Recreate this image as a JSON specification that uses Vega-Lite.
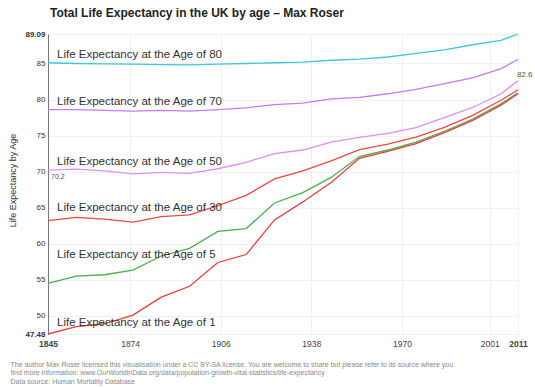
{
  "$schema": "https://vega.github.io/schema/vega-lite/v6.json",
  "width": 470,
  "height": 300,
  "autosize": {"type": "none"},
  "padding": {"left": 48, "top": 34, "right": 17, "bottom": 54},
  "background": "white",
  "config": {"font": "Liberation Sans", "view": {"stroke": null}},
  "title": {"text": "Total Life Expectancy in the UK by age – Max Roser", "anchor": "start", "frame": "group", "fontSize": 12, "fontWeight": "bold", "color": "#222222", "offset": 10, "dx": 2},
  "data": {"values": [
    {"year": 1845, "Life Expectancy at the Age of 80": 85.1, "Life Expectancy at the Age of 70": 78.6, "Life Expectancy at the Age of 50": 70.2, "Life Expectancy at the Age of 30": 63.2, "Life Expectancy at the Age of 5": 54.5, "Life Expectancy at the Age of 1": 47.48},
    {"year": 1855, "Life Expectancy at the Age of 80": 85.0, "Life Expectancy at the Age of 70": 78.6, "Life Expectancy at the Age of 50": 70.35, "Life Expectancy at the Age of 30": 63.65, "Life Expectancy at the Age of 5": 55.5, "Life Expectancy at the Age of 1": 48.5},
    {"year": 1865, "Life Expectancy at the Age of 80": 84.95, "Life Expectancy at the Age of 70": 78.5, "Life Expectancy at the Age of 50": 70.1, "Life Expectancy at the Age of 30": 63.4, "Life Expectancy at the Age of 5": 55.7, "Life Expectancy at the Age of 1": 48.9},
    {"year": 1875, "Life Expectancy at the Age of 80": 84.9, "Life Expectancy at the Age of 70": 78.4, "Life Expectancy at the Age of 50": 69.7, "Life Expectancy at the Age of 30": 63.0, "Life Expectancy at the Age of 5": 56.35, "Life Expectancy at the Age of 1": 50.1},
    {"year": 1885, "Life Expectancy at the Age of 80": 84.85, "Life Expectancy at the Age of 70": 78.5, "Life Expectancy at the Age of 50": 69.9, "Life Expectancy at the Age of 30": 63.75, "Life Expectancy at the Age of 5": 58.3, "Life Expectancy at the Age of 1": 52.6},
    {"year": 1895, "Life Expectancy at the Age of 80": 84.8, "Life Expectancy at the Age of 70": 78.4, "Life Expectancy at the Age of 50": 69.75, "Life Expectancy at the Age of 30": 64.0, "Life Expectancy at the Age of 5": 59.35, "Life Expectancy at the Age of 1": 54.1},
    {"year": 1905, "Life Expectancy at the Age of 80": 84.9, "Life Expectancy at the Age of 70": 78.6, "Life Expectancy at the Age of 50": 70.4, "Life Expectancy at the Age of 30": 65.3, "Life Expectancy at the Age of 5": 61.7, "Life Expectancy at the Age of 1": 57.4},
    {"year": 1915, "Life Expectancy at the Age of 80": 85.0, "Life Expectancy at the Age of 70": 78.85, "Life Expectancy at the Age of 50": 71.3, "Life Expectancy at the Age of 30": 66.7, "Life Expectancy at the Age of 5": 62.1, "Life Expectancy at the Age of 1": 58.5},
    {"year": 1925, "Life Expectancy at the Age of 80": 85.1, "Life Expectancy at the Age of 70": 79.3, "Life Expectancy at the Age of 50": 72.5, "Life Expectancy at the Age of 30": 69.0, "Life Expectancy at the Age of 5": 65.65, "Life Expectancy at the Age of 1": 63.3},
    {"year": 1935, "Life Expectancy at the Age of 80": 85.2, "Life Expectancy at the Age of 70": 79.5, "Life Expectancy at the Age of 50": 73.0, "Life Expectancy at the Age of 30": 70.1, "Life Expectancy at the Age of 5": 67.1, "Life Expectancy at the Age of 1": 65.8},
    {"year": 1945, "Life Expectancy at the Age of 80": 85.45, "Life Expectancy at the Age of 70": 80.1, "Life Expectancy at the Age of 50": 74.1, "Life Expectancy at the Age of 30": 71.5, "Life Expectancy at the Age of 5": 69.2, "Life Expectancy at the Age of 1": 68.5},
    {"year": 1955, "Life Expectancy at the Age of 80": 85.6, "Life Expectancy at the Age of 70": 80.3, "Life Expectancy at the Age of 50": 74.75, "Life Expectancy at the Age of 30": 73.05, "Life Expectancy at the Age of 5": 72.1, "Life Expectancy at the Age of 1": 71.85},
    {"year": 1965, "Life Expectancy at the Age of 80": 85.9, "Life Expectancy at the Age of 70": 80.8, "Life Expectancy at the Age of 50": 75.3, "Life Expectancy at the Age of 30": 73.8, "Life Expectancy at the Age of 5": 73.0, "Life Expectancy at the Age of 1": 72.8},
    {"year": 1975, "Life Expectancy at the Age of 80": 86.4, "Life Expectancy at the Age of 70": 81.4, "Life Expectancy at the Age of 50": 76.1, "Life Expectancy at the Age of 30": 74.8, "Life Expectancy at the Age of 5": 74.1, "Life Expectancy at the Age of 1": 73.9},
    {"year": 1985, "Life Expectancy at the Age of 80": 86.9, "Life Expectancy at the Age of 70": 82.2, "Life Expectancy at the Age of 50": 77.5, "Life Expectancy at the Age of 30": 76.15, "Life Expectancy at the Age of 5": 75.6, "Life Expectancy at the Age of 1": 75.4},
    {"year": 1995, "Life Expectancy at the Age of 80": 87.6, "Life Expectancy at the Age of 70": 83.0, "Life Expectancy at the Age of 50": 78.9, "Life Expectancy at the Age of 30": 77.8, "Life Expectancy at the Age of 5": 77.3, "Life Expectancy at the Age of 1": 77.1},
    {"year": 2005, "Life Expectancy at the Age of 80": 88.2, "Life Expectancy at the Age of 70": 84.3, "Life Expectancy at the Age of 50": 80.8, "Life Expectancy at the Age of 30": 79.9, "Life Expectancy at the Age of 5": 79.4, "Life Expectancy at the Age of 1": 79.2},
    {"year": 2011, "Life Expectancy at the Age of 80": 89.09, "Life Expectancy at the Age of 70": 85.55, "Life Expectancy at the Age of 50": 82.6, "Life Expectancy at the Age of 30": 81.35, "Life Expectancy at the Age of 5": 80.95, "Life Expectancy at the Age of 1": 80.8}
  ]},
  "transform": [
    {"fold": ["Life Expectancy at the Age of 80", "Life Expectancy at the Age of 70", "Life Expectancy at the Age of 50", "Life Expectancy at the Age of 30", "Life Expectancy at the Age of 5", "Life Expectancy at the Age of 1"], "as": ["series", "value"]}
  ],
  "encoding": {
    "x": {
      "field": "year", "type": "quantitative",
      "scale": {"domain": [1845, 2011], "nice": false, "zero": false},
      "axis": {
        "values": [1845, 1874, 1906, 1938, 1970, 2001, 2011],
        "format": "d",
        "domain": false, "ticks": false, "tickSize": 0,
        "labelPadding": 5, "labelFontSize": 8.5, "labelColor": "#444444",
        "labelFontWeight": {"condition": {"test": "datum.value == 1845 || datum.value == 2011", "value": "bold"}, "value": "normal"},
        "labelFlush": false,
        "grid": true, "gridColor": "#f1f1f1", "gridWidth": 1,
        "title": ["The author Max Roser licensed this visualisation under a CC BY-SA license. You are welcome to share but please refer to its source where you", "find more information: www.OurWorldinData.org/data/population-growth-vital-statistics/life-expectancy", "Data source: Human Mortality Database"],
        "titleFontSize": 7, "titleFontWeight": "normal", "titleColor": "#888888",
        "titleAlign": "left", "titleBaseline": "top", "titleX": -38, "titleY": 26, "titleLineHeight": 8.5
      }
    },
    "y": {
      "field": "value", "type": "quantitative",
      "scale": {"domain": [47.48, 89.09], "nice": false, "zero": false},
      "axis": {
        "values": [47.48, 50, 55, 60, 65, 70, 75, 80, 85, 89.09],
        "labelExpr": "datum.value == 47.48 || datum.value == 89.09 ? format(datum.value, '.2f') : format(datum.value, 'd')",
        "labelFontSize": 8, "labelColor": "#333333",
        "labelFontWeight": {"condition": {"test": "datum.value == 47.48 || datum.value == 89.09", "value": "bold"}, "value": "normal"},
        "labelPadding": 3, "ticks": false, "tickSize": 0,
        "domain": true, "domainColor": "#777777", "domainWidth": 1,
        "grid": true, "gridColor": "#f1f1f1", "gridWidth": 1,
        "title": "Life Expectancy by Age", "titleFontSize": 9, "titleFontWeight": "normal", "titleColor": "#333333",
        "titleX": -36, "titleY": 146, "titleAlign": "center", "titleBaseline": "middle", "titleAngle": -90
      }
    }
  },
  "layer": [
    {
      "mark": {"type": "line", "strokeWidth": 1.3},
      "encoding": {
        "color": {
          "field": "series", "type": "nominal", "legend": null,
          "scale": {
            "domain": ["Life Expectancy at the Age of 80", "Life Expectancy at the Age of 70", "Life Expectancy at the Age of 50", "Life Expectancy at the Age of 30", "Life Expectancy at the Age of 5", "Life Expectancy at the Age of 1"],
            "range": ["#3cc9d8", "#c27cf2", "#dc8ef2", "#f04545", "#4cae4c", "#ea3b3b"]
          }
        }
      }
    },
    {
      "transform": [{"filter": "datum.year == 1845 && (datum.series == 'Life Expectancy at the Age of 80' || datum.series == 'Life Expectancy at the Age of 70' || datum.series == 'Life Expectancy at the Age of 50')"}],
      "mark": {"type": "text", "align": "left", "baseline": "middle", "dx": 9, "dy": -8, "fontSize": 11.5, "color": "#333333"},
      "encoding": {"text": {"field": "series"}}
    },
    {
      "transform": [{"filter": "datum.year == 1845 && datum.series == 'Life Expectancy at the Age of 30'"}],
      "mark": {"type": "text", "align": "left", "baseline": "middle", "dx": 9, "dy": -13, "fontSize": 11.5, "color": "#333333"},
      "encoding": {"text": {"field": "series"}}
    },
    {
      "transform": [{"filter": "datum.year == 1845 && datum.series == 'Life Expectancy at the Age of 5'"}],
      "mark": {"type": "text", "align": "left", "baseline": "middle", "dx": 9, "dy": -28, "fontSize": 11.5, "color": "#333333"},
      "encoding": {"text": {"field": "series"}}
    },
    {
      "transform": [{"filter": "datum.year == 1845 && datum.series == 'Life Expectancy at the Age of 1'"}],
      "mark": {"type": "text", "align": "left", "baseline": "middle", "dx": 9, "dy": -11, "fontSize": 11.5, "color": "#333333"},
      "encoding": {"text": {"field": "series"}}
    },
    {
      "transform": [{"filter": "datum.year == 1845 && datum.series == 'Life Expectancy at the Age of 50'"}],
      "mark": {"type": "text", "align": "left", "baseline": "middle", "dx": 3, "dy": 7, "fontSize": 7, "color": "#555555"},
      "encoding": {"text": {"field": "value", "format": ".1f"}}
    },
    {
      "transform": [{"filter": "datum.year == 2011 && datum.series == 'Life Expectancy at the Age of 50'"}],
      "mark": {"type": "text", "align": "left", "baseline": "middle", "dx": -1, "dy": -6, "fontSize": 8, "color": "#555555"},
      "encoding": {"text": {"field": "value", "format": ".1f"}}
    }
  ]
}
